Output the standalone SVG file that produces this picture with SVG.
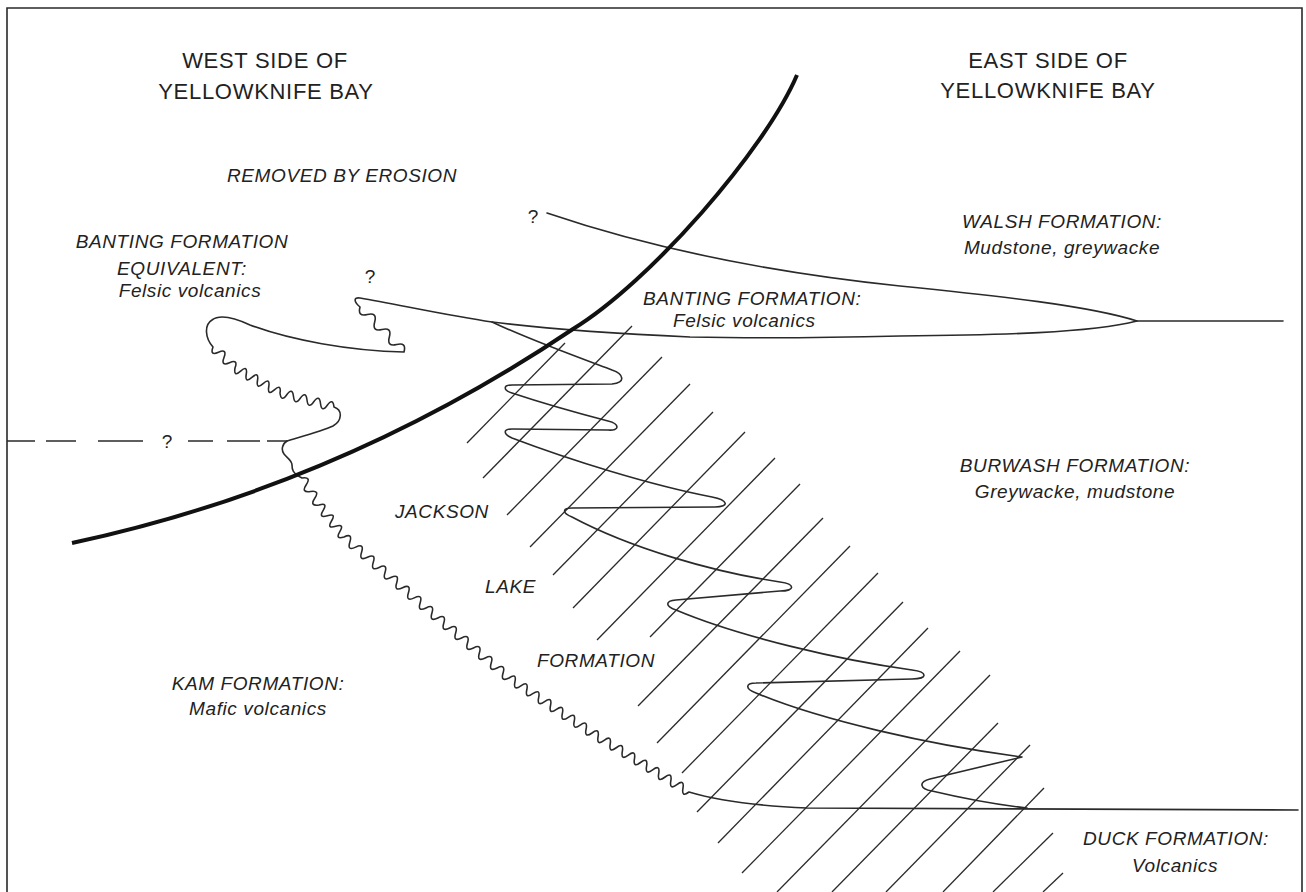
<svg xmlns="http://www.w3.org/2000/svg" width="1306" height="892" viewBox="0 0 1306 892">
  <style>
    .frame { fill: none; stroke: #2a2a2a; stroke-width: 1.6; }
    .ln { fill: none; stroke: #2a2a2a; stroke-width: 1.6; stroke-linejoin: round; stroke-linecap: round; }
    .fault { fill: none; stroke: #111; stroke-width: 4; }
    .hatch { fill: none; stroke: #2a2a2a; stroke-width: 1.3; }
    .dash { fill: none; stroke: #2a2a2a; stroke-width: 1.6; }
    .head { font-family: "Liberation Sans", Arial, sans-serif; font-size: 22px; letter-spacing: 0.7px; fill: #222; }
    .lab { font-family: "Liberation Sans", Arial, sans-serif; font-size: 19px; font-style: italic; letter-spacing: 0.6px; fill: #222; }
    .q { font-family: "Liberation Sans", Arial, sans-serif; font-size: 19px; fill: #222; }
  </style>
  <rect x="0" y="0" width="1306" height="892" fill="#fff"/>

  <!-- border -->
  <path class="frame" d="M7,892 V8 H1302 V892"/>

  <!-- diagonal ruling of the Jackson Lake Formation -->
  <g id="hatching">
    <line class="hatch" x1="467" y1="443" x2="565" y2="343"/>
    <line class="hatch" x1="483" y1="478" x2="632" y2="326"/>
    <line class="hatch" x1="507" y1="515" x2="662" y2="357"/>
    <line class="hatch" x1="530" y1="547" x2="690" y2="384"/>
    <line class="hatch" x1="553" y1="575" x2="713" y2="412"/>
    <line class="hatch" x1="573" y1="608" x2="745" y2="432"/>
    <line class="hatch" x1="597" y1="640" x2="775" y2="458"/>
    <line class="hatch" x1="650" y1="637" x2="800" y2="484"/>
    <line class="hatch" x1="638" y1="706" x2="823" y2="518"/>
    <line class="hatch" x1="657" y1="743" x2="850" y2="546"/>
    <line class="hatch" x1="682" y1="773" x2="878" y2="573"/>
    <line class="hatch" x1="697" y1="812" x2="903" y2="602"/>
    <line class="hatch" x1="718" y1="843" x2="928" y2="628"/>
    <line class="hatch" x1="742" y1="873" x2="960" y2="651"/>
    <line class="hatch" x1="777" y1="892" x2="990" y2="675"/>
    <line class="hatch" x1="832" y1="892" x2="998" y2="723"/>
    <line class="hatch" x1="886" y1="892" x2="1030" y2="745"/>
    <line class="hatch" x1="943" y1="892" x2="1044" y2="788"/>
    <line class="hatch" x1="993" y1="892" x2="1053" y2="833"/>
    <line class="hatch" x1="1043" y1="892" x2="1063" y2="873"/>
  </g>

  <g id="contacts">
    <!-- base of Walsh Formation -->
    <path id="walsh-base" class="ln" d="M547,213 Q700,265 900,286 C1000,296 1090,306 1137,321"/>
    <!-- west felsic lens, tongue and base of Banting Formation -->
    <path id="banting-base" class="ln" d="M287,441 C300,437 322,431 333,426 C342,421 343,410 334,407
      q-1.12,-9.59 -6.75,-1.75 t-6.75,-1.75 -6.75,-1.75 -6.75,-1.75 -6.75,-1.75 -6.75,-1.75 -6.75,-1.75 -6.75,-1.75
      q1.56,-9.43 -5.625,-3.125 t-5.625,-3.125 -5.625,-3.125 -5.625,-3.125 -5.625,-3.125 -5.625,-3.125 -5.625,-3.125 -5.625,-3.125
      q3.47,-9.15 -5.5,-5.25 t-5.5,-5.25 -5.5,-5.25 -5.5,-5.25
      C205,338 204,325 212,320 C220,314 235,318 250,325 C290,340 350,351 404,352
      q2.77,-10.04 -7.33,-7.5 t-7.33,-7.5 -7.33,-7.5 -7.33,-7.5 -7.33,-7.5 -7.33,-7.5
      C354,302 353,297 360,298 C400,305 450,316 492,322 C540,328 600,333 690,337 C780,339 860,337 900,336 C1000,335 1090,333 1137,321 L1283,321"/>
    <!-- interfingering of Jackson Lake and Burwash Formations -->
    <path id="jackson-tongues" class="ln" d="M492,322 C530,340 580,358 612,370 C624,374 626,383 612,384 L512,385
      C503,385 503,390 512,393 C545,404 585,415 608,421 C620,424 620,431 608,430 L512,429
      C503,429 503,434 512,438 C570,460 650,485 712,497 C728,500 730,507 715,507 L572,508
      C562,508 562,513 572,517 C630,548 713,572 780,582 C795,584 796,591 780,591 L676,600
      C665,601 665,606 676,610 C740,637 840,660 912,670 C928,672 928,679 912,679 L756,683
      C745,683 745,689 756,693 C820,720 930,745 1022,757 L930,779
      C918,782 920,789 932,791 C970,800 1000,805 1027,808"/>
    <!-- unconformity on Kam Formation and top of Duck Formation -->
    <path id="unconformity" class="ln" d="M287,441 c-5,3 -6,9 -3,13 c3,4 8,6 8,11 c0,4 0,8 10,13
      q9.74,-1.42 4.25,6.75 t4.25,6.75 4.25,6.75 4.25,6.75
      q9.17,-2.88 4.167,5.333 t4.167,5.333 4.167,5.333 4.167,5.333 4.167,5.333 4.167,5.333
      q8.82,-4.27 5.857,5.071 t5.857,5.071 5.857,5.071 5.857,5.071 5.857,5.071 5.857,5.071 5.857,5.071 5.857,5.071 5.857,5.071 5.857,5.071 5.857,5.071 5.857,5.071 5.857,5.071 5.857,5.071
      q8.77,-4.38 5.929,5 t5.929,5 5.929,5 5.929,5 5.929,5 5.929,5 5.929,5 5.929,5 5.929,5 5.929,5 5.929,5 5.929,5 5.929,5 5.929,5
      q7.93,-5.54 5.929,3.929 t5.929,3.929 5.929,3.929 5.929,3.929 5.929,3.929 5.929,3.929 5.929,3.929 5.929,3.929 5.929,3.929 5.929,3.929 5.929,3.929 5.929,3.929 5.929,3.929 5.929,3.929
      q7.71,-5.85 6.0625,3.6875 t6.0625,3.6875 6.0625,3.6875 6.0625,3.6875 6.0625,3.6875 6.0625,3.6875 6.0625,3.6875 6.0625,3.6875 6.0625,3.6875 6.0625,3.6875 6.0625,3.6875 6.0625,3.6875 6.0625,3.6875 6.0625,3.6875 6.0625,3.6875 6.0625,3.6875
      C719,801 760,806 807,808 L1298,810"/>
    <!-- uncertain westward continuation -->
    <path id="dashed-contact" class="dash" d="M7,441 H35 M46,441 H76 M98,441 H143 M188,441 H213 M227,441 H260 M267,441 H287"/>
    <!-- Yellowknife Bay fault -->
    <path id="fault" class="fault" d="M72,543 C250,505 420,432 573,329 C650,282 765,150 797,75"/>
  </g>

  <g id="labels">
    <g id="west-head">
      <text class="head" x="265" y="68" text-anchor="middle">WEST SIDE OF</text>
      <text class="head" x="266" y="99" text-anchor="middle">YELLOWKNIFE BAY</text>
    </g>
    <g id="east-head">
      <text class="head" x="1048" y="68" text-anchor="middle">EAST SIDE OF</text>
      <text class="head" x="1048" y="98" text-anchor="middle">YELLOWKNIFE BAY</text>
    </g>
    <text class="lab" x="227" y="182">REMOVED BY EROSION</text>
    <g id="banting-equiv">
      <text class="lab" x="182" y="248" text-anchor="middle">BANTING FORMATION</text>
      <text class="lab" x="182" y="275" text-anchor="middle">EQUIVALENT:</text>
      <text class="lab" x="190" y="297" text-anchor="middle">Felsic volcanics</text>
    </g>
    <g id="walsh">
      <text class="lab" x="1062" y="228" text-anchor="middle">WALSH FORMATION:</text>
      <text class="lab" x="1062" y="254" text-anchor="middle">Mudstone, greywacke</text>
    </g>
    <g id="banting">
      <text class="lab" x="643" y="305">BANTING FORMATION:</text>
      <text class="lab" x="673" y="327">Felsic volcanics</text>
    </g>
    <g id="burwash">
      <text class="lab" x="1075" y="472" text-anchor="middle">BURWASH FORMATION:</text>
      <text class="lab" x="1075" y="498" text-anchor="middle">Greywacke, mudstone</text>
    </g>
    <g id="jackson-lake">
      <text class="lab" x="395" y="518">JACKSON</text>
      <text class="lab" x="485" y="593">LAKE</text>
      <text class="lab" x="537" y="667">FORMATION</text>
    </g>
    <g id="kam">
      <text class="lab" x="258" y="690" text-anchor="middle">KAM FORMATION:</text>
      <text class="lab" x="258" y="715" text-anchor="middle">Mafic volcanics</text>
    </g>
    <g id="duck">
      <text class="lab" x="1176" y="845" text-anchor="middle">DUCK FORMATION:</text>
      <text class="lab" x="1175" y="872" text-anchor="middle">Volcanics</text>
    </g>
    <g id="queries">
      <text class="q" x="370" y="283" text-anchor="middle">?</text>
      <text class="q" x="533" y="223" text-anchor="middle">?</text>
      <text class="q" x="167" y="448" text-anchor="middle">?</text>
    </g>
  </g>
</svg>
